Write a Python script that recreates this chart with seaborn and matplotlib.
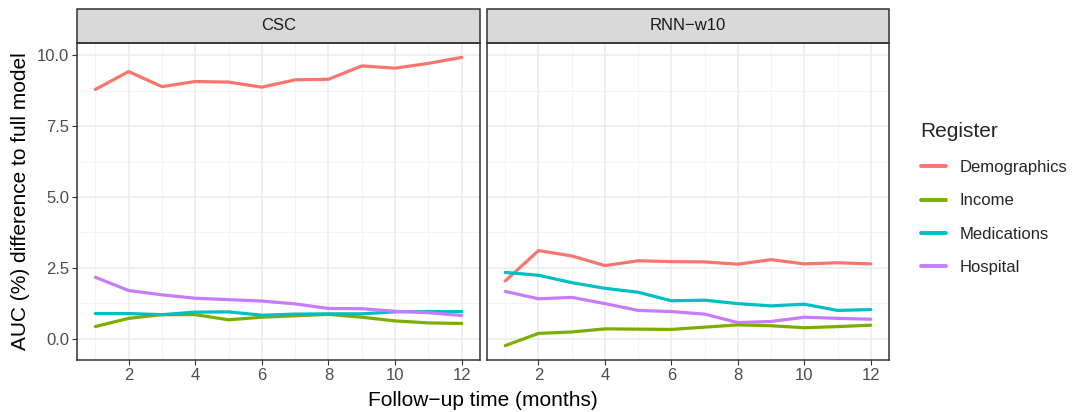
import numpy as np
import pandas as pd
import matplotlib
matplotlib.use("Agg")
import matplotlib.pyplot as plt
from matplotlib.patches import Rectangle
from matplotlib.lines import Line2D
from matplotlib.ticker import MultipleLocator, FixedLocator, FormatStrFormatter
import seaborn as sns

months = list(range(1, 13))
registers = ["Demographics", "Income", "Medications", "Hospital"]
models = ["CSC", "RNN\u2212w10"]

# values
csc_demographics = [8.79, 9.42, 8.89, 9.07, 9.05, 8.87, 9.13, 9.15, 9.62, 9.54, 9.71, 9.92]
csc_income = [0.43, 0.72, 0.85, 0.85, 0.67, 0.76, 0.81, 0.86, 0.76, 0.63, 0.56, 0.54]
csc_medications = [0.89, 0.89, 0.85, 0.94, 0.95, 0.83, 0.87, 0.88, 0.88, 0.95, 0.96, 0.96]
csc_hospital = [2.17, 1.70, 1.55, 1.43, 1.38, 1.33, 1.23, 1.07, 1.06, 0.97, 0.92, 0.82]

rnn_demographics = [2.04, 3.11, 2.92, 2.58, 2.75, 2.72, 2.71, 2.63, 2.79, 2.64, 2.68, 2.64]
rnn_income = [-0.24, 0.19, 0.24, 0.35, 0.34, 0.33, 0.41, 0.49, 0.46, 0.39, 0.43, 0.48]
rnn_medications = [2.34, 2.24, 1.98, 1.78, 1.64, 1.34, 1.36, 1.24, 1.16, 1.22, 1.00, 1.03]
rnn_hospital = [1.67, 1.41, 1.46, 1.24, 1.00, 0.96, 0.87, 0.57, 0.61, 0.76, 0.72, 0.69]

series = {
    models[0]: [csc_demographics, csc_income, csc_medications, csc_hospital],
    models[1]: [rnn_demographics, rnn_income, rnn_medications, rnn_hospital],
}
rows = []
for model, vals in series.items():
    for reg, ys in zip(registers, vals):
        for m, y in zip(months, ys):
            rows.append({"model": model, "Register": reg, "month": m, "auc": y})
df = pd.DataFrame(rows)

palette = dict(zip(registers, ["#F8766D", "#7CAE00", "#00BFC4", "#C77CFF"]))

sns.set_theme(style="white")
plt.rcParams["font.family"] = ["Liberation Sans", "DejaVu Sans"]

W, H = 1081, 412
fig = plt.figure(figsize=(W / 100, H / 100), dpi=100)
panel_x = [(77, 480), (487, 889)]
top, bottom = 43, 360
axes = []
for x0, x1 in panel_x:
    ax = fig.add_axes([x0 / W, 1 - bottom / H, (x1 - x0) / W, (bottom - top) / H])
    axes.append(ax)

ymin, ymax = -0.24, 9.92
pad = (ymax - ymin) * 0.05
for ax, model in zip(axes, models):
    sub = df[df["model"] == model]
    sns.lineplot(data=sub, x="month", y="auc", hue="Register", hue_order=registers,
                 palette=palette, linewidth=2.3, ax=ax, legend=False)
    ax.set_xlim(1 - 0.55, 12 + 0.55)
    ax.set_ylim(ymin - pad, ymax + pad)
    ax.xaxis.set_major_locator(MultipleLocator(2))
    ax.xaxis.set_minor_locator(FixedLocator([1, 3, 5, 7, 9, 11]))
    ax.set_yticks([0, 2.5, 5, 7.5, 10])
    ax.yaxis.set_minor_locator(FixedLocator([1.25, 3.75, 6.25, 8.75]))
    ax.yaxis.set_major_formatter(FormatStrFormatter("%.1f"))
    ax.grid(which="major", color="#EBEBEB", linewidth=1.1)
    ax.grid(which="minor", color="#F2F2F2", linewidth=0.6)
    ax.set_axisbelow(True)
    for s in ax.spines.values():
        s.set_color("#333333")
        s.set_linewidth(1.1)
    ax.tick_params(which="major", length=3.5, width=0.8, color="#333333",
                   labelsize=12, labelcolor="#4D4D4D", pad=2)
    ax.tick_params(which="minor", length=0)
    ax.tick_params(axis="both", which="both", bottom=True, left=True)
    ax.set_xlabel("")
    ax.set_ylabel("")
    sh = 34 / (bottom - top)
    ax.add_patch(Rectangle((0, 1), 1, sh, transform=ax.transAxes, facecolor="#D9D9D9",
                           edgecolor="#333333", linewidth=1.1, clip_on=False))
    ax.text(0.5, 1 + sh / 2, model, transform=ax.transAxes, ha="center", va="center",
            fontsize=12, color="#1A1A1A")

axes[1].tick_params(axis="y", which="both", left=False, labelleft=False)

fig.text(483 / W, 1 - 400 / H, "Follow\u2212up time (months)", ha="center", va="center",
         fontsize=15, color="black")
fig.text(21 / W, 1 - ((top + bottom) / 2) / H, "AUC (%) difference to full model",
         ha="center", va="center", rotation=90, fontsize=15, color="black")

handles = [Line2D([0], [0], color=palette[r], linewidth=2.8) for r in registers]
leg = fig.legend(handles, registers, title="Register", loc="upper left",
                 bbox_to_anchor=(914 / W, 1 - 115 / H), frameon=False,
                 fontsize=12, title_fontsize=15, handlelength=1.5,
                 labelspacing=1.1, handletextpad=0.85, alignment="left",
                 borderaxespad=0)
leg._legend_box.sep = 14
leg.get_title().set_position((0, 0))

fig.savefig("out.png", dpi=100)
